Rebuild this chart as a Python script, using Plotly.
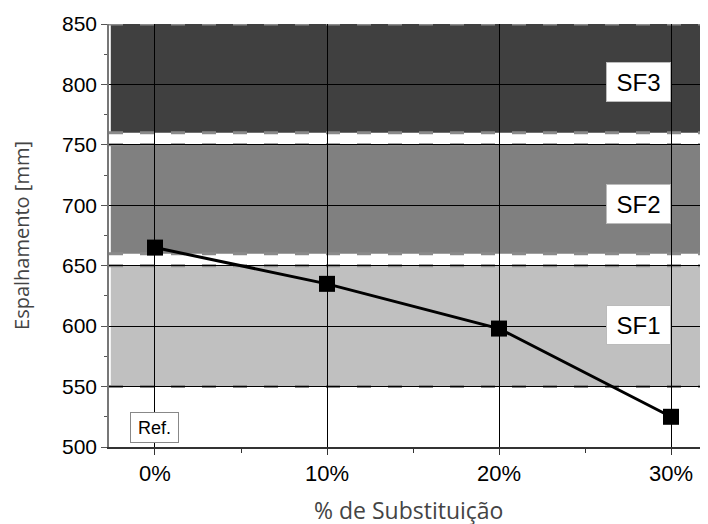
import plotly.graph_objects as go

# Data
x_vals = [0, 10, 20, 30]
y_vals = [665, 635, 598, 525]
x_tick_vals = [0, 10, 20, 30]
x_tick_text = ["0%", "10%", "20%", "30%"]
y_tick_vals = [500, 550, 600, 650, 700, 750, 800, 850]

# Class bands (lower, upper, colour, label, label y)
band_names = ["SF1", "SF2", "SF3"]
band_low = [550, 660, 760]
band_high = [650, 750, 850]
band_colors = ["#c0c0c0", "#808080", "#404040"]
band_label_y = [601, 701, 802]

fig = go.Figure()

shapes = []
for lo, hi, col in zip(band_low, band_high, band_colors):
    shapes.append(dict(type="rect", xref="paper", yref="y", x0=0.003, x1=1,
                       y0=lo, y1=hi, fillcolor=col, line=dict(width=0),
                       layer="below"))
for lo, hi in zip(band_low, band_high):
    for yy in (lo, hi):
        shapes.append(dict(type="line", xref="paper", yref="y", x0=0, x1=1,
                           y0=yy, y1=yy,
                           line=dict(color="#8a8a8a", width=3, dash="14px,17px"),
                           layer="below"))

fig.add_trace(go.Scatter(
    x=x_vals, y=y_vals, mode="lines+markers",
    line=dict(color="black", width=3),
    marker=dict(symbol="square", size=16, color="black"),
    showlegend=False, cliponaxis=False,
))

annotations = []
for name, ly in zip(band_names, band_label_y):
    annotations.append(dict(x=30, y=ly, xref="x", yref="y", text=name,
                            showarrow=False, xanchor="right", yanchor="middle",
                            width=63, height=38,
                            font=dict(family="Liberation Sans, Arial", size=24, color="black"),
                            bgcolor="white", bordercolor="#bbbbbb", borderwidth=1,
                            borderpad=0))
annotations.append(dict(x=0, y=516, xref="x", yref="y", text="Ref.",
                        showarrow=False, xanchor="center", yanchor="middle",
                        width=47, height=29,
                        font=dict(family="Liberation Sans, Arial", size=18, color="black"),
                        bgcolor="white", bordercolor="#888888", borderwidth=1,
                        borderpad=0))
# x-axis title
annotations.append(dict(x=0.5, y=0, xref="paper", yref="paper",
                        text="% de Substituição", showarrow=False,
                        xanchor="center", yanchor="top", yshift=-45,
                        font=dict(family="Open Sans, Noto Sans", size=23, color="#444")))

fig.update_layout(
    width=708, height=524,
    margin=dict(l=101, r=8, t=16, b=85, autoexpand=False),
    paper_bgcolor="white", plot_bgcolor="white",
    shapes=shapes, annotations=annotations,
    showlegend=False,
)

fig.update_xaxes(
    range=[-2.674, 32.15],
    tickvals=x_tick_vals, ticktext=x_tick_text,
    tickfont=dict(family="Liberation Sans, Arial", size=22, color="black"),
    ticks="outside", ticklen=6, tickcolor="#333",
    minor=dict(tickvals=[5, 15, 25], ticks="outside", ticklen=4, tickcolor="#333", showgrid=False),
    showline=True, linecolor="#333", linewidth=1.5,
    showgrid=True, gridcolor="black", gridwidth=1,
    zeroline=False, automargin=False,
)

fig.update_yaxes(
    range=[500, 850],
    tickvals=y_tick_vals,
    tickfont=dict(family="Liberation Sans, Arial", size=21, color="black"),
    ticks="outside", ticklen=6, tickcolor="#555",
    minor=dict(dtick=25, tick0=525, ticks="outside", ticklen=3, tickcolor="#555", showgrid=False),
    showline=True, linecolor="#777", linewidth=1.5,
    showgrid=True, gridcolor="black", gridwidth=1,
    zeroline=False, automargin=False,
    title=dict(text="Espalhamento [mm]", standoff=27,
               font=dict(family="Open Sans, Noto Sans", size=20, color="#444")),
)

fig.write_html("out.html")
